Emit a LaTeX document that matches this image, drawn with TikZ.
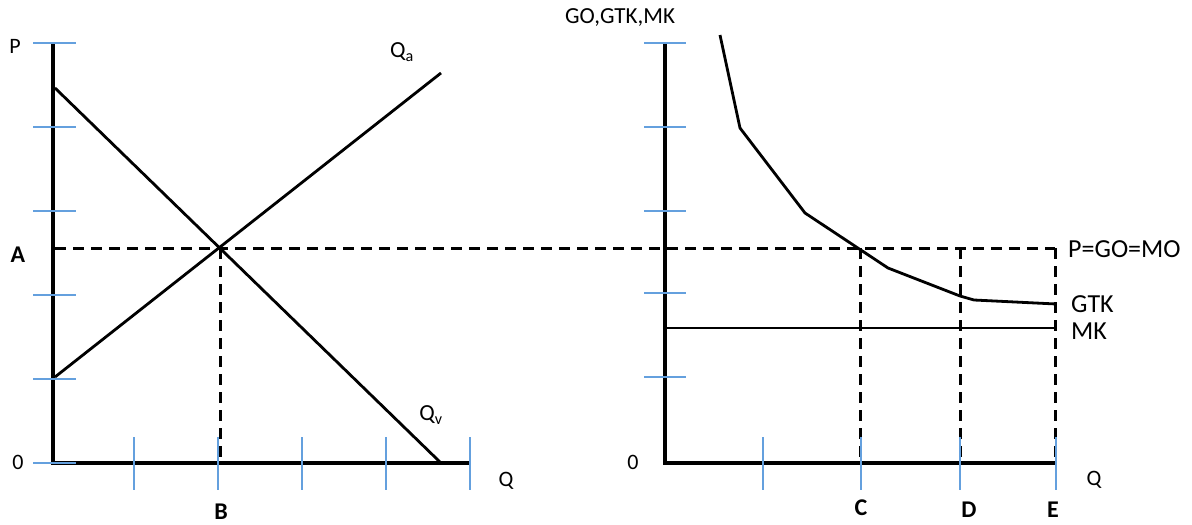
\documentclass[tikz,border=0pt]{standalone}
\usepackage{fontspec}
\setmainfont{Carlito}
\definecolor{tickblue}{RGB}{100,160,222}
\begin{document}
\begin{tikzpicture}[x=1pt,y=-1pt,
  axis/.style={line width=4.2pt},
  curve/.style={line width=2.8pt, line join=round},
  guide/.style={line width=3pt, dash pattern=on 11pt off 7pt},
  tickmark/.style={draw=tickblue, line width=1.3pt},
  lbl/.style={font=\fontsize{22}{26}\selectfont, inner sep=0pt},
  mlbl/.style={font=\fontsize{23}{27}\selectfont, inner sep=0pt},
  rlbl/.style={font=\fontsize{26}{30}\selectfont, inner sep=0pt, anchor=west},
  blbl/.style={font=\fontsize{24}{28}\selectfont\bfseries, inner sep=0pt}]
\useasboundingbox (0,0) rectangle (1192,525);

% ---------- left panel ----------
\coordinate (O1) at (53,463);
\coordinate (Y1) at (53,43);
\coordinate (X1) at (470,463);
\draw[axis] (Y1) -- (O1) -- (X1);
\coordinate (QvS) at (55,88);
\coordinate (QvE) at (441,463);
\coordinate (QaS) at (55,377);
\coordinate (QaE) at (441,73);
\draw[curve] (QvS) -- (QvE);
\draw[curve] (QaS) -- (QaE);
\coordinate (Eq) at (220,248);
\coordinate (Bb) at (220,463);
\coordinate (Aa) at (55,248);
\draw[guide] (Eq) -- (Bb);
\foreach \y in {43,127,211,295,379,463} \draw[tickmark] (33,\y) -- (76,\y);
\foreach \x in {134,218,302,386,470} \draw[tickmark] (\x,437) -- (\x,490);

\node[lbl] (lP) at (15,46) {P};
\node[lbl] (l0a) at (18,462) {0};
\node[blbl] (lA) at (18,255) {A};
\node[blbl] (lB) at (221,512) {B};
\node[lbl] (lQ1) at (506,481) {Q};
\node[mlbl] (lQa) at (402,52) {Q\textsubscript{a}};
\node[mlbl] (lQv) at (431,415) {Q\textsubscript{v}};

% ---------- right panel ----------
\coordinate (O2) at (665,463);
\coordinate (Y2) at (665,43);
\coordinate (X2) at (1055,463);
\draw[axis] (Y2) -- (O2) -- (X2);
\coordinate (G1) at (720,35);
\coordinate (G2) at (740,128);
\coordinate (G3) at (805,213);
\coordinate (G4) at (888,268);
\coordinate (G5) at (960,296);
\coordinate (G6) at (974,300);
\coordinate (G7) at (1056,304);
\draw[curve] (G1) -- (G2) -- (G3) -- (G4) -- (G5) -- (G6) -- (G7);
\coordinate (MKs) at (665,328);
\coordinate (MKe) at (1055,328);
\draw[curve] (MKs) -- (MKe);
\coordinate (Pe) at (1055,248);
\draw[guide] (Aa) -- (Pe);
\coordinate (Ct) at (860,248);
\coordinate (Cb) at (860,463);
\coordinate (Dt) at (960,248);
\coordinate (Db) at (960,463);
\coordinate (Eb) at (1055,463);
\draw[guide] (Ct) -- (Cb);
\draw[guide] (Dt) -- (Db);
\draw[guide] (Pe) -- (Eb);
\foreach \y in {43,127,211,293,377} \draw[tickmark] (644,\y) -- (686,\y);
\foreach \x in {763,861,960,1056} \draw[tickmark] (\x,437) -- (\x,490);

\node[mlbl] (lGO) at (620,18) {GO,GTK,MK};
\node[lbl] (l0b) at (633,462) {0};
\node[lbl] (lQ2) at (1094,480) {Q};
\node[blbl] (lC) at (861,508) {C};
\node[blbl] (lD) at (969,510) {D};
\node[blbl] (lE) at (1053,510) {E};
\node[rlbl] (lP2) at (1068,249) {P=GO=MO};
\node[rlbl] (lGTK) at (1071,304) {GTK};
\node[rlbl] (lMK) at (1071,331) {MK};
\end{tikzpicture}
\end{document}
